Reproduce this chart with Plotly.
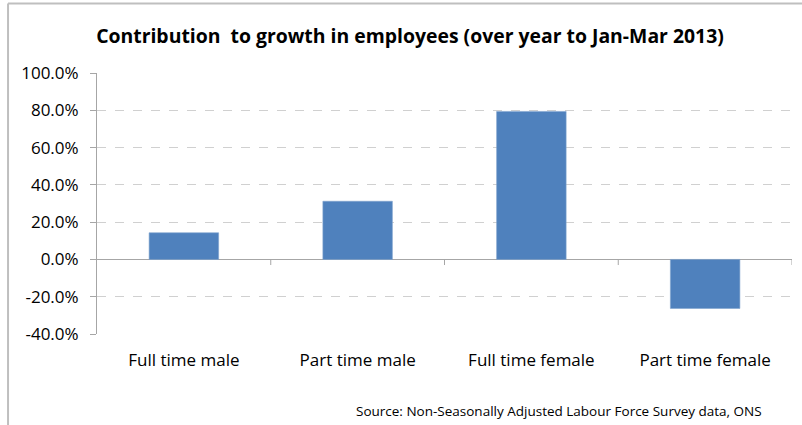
import plotly.graph_objects as go

categories = ["Full time male", "Part time male", "Full time female", "Part time female"]
contribution_pct = [14.3, 31.2, 79.4, -26.3]
y_ticks = [-40, -20, 0, 20, 40, 60, 80, 100]
y_tick_labels = [f"{v:.1f}%" for v in y_ticks]

title_text = "Contribution  to growth in employees (over year to Jan-Mar 2013)"
source_text = "Source: Non-Seasonally Adjusted Labour Force Survey data, ONS"

FONT = "'Open Sans', Carlito, Calibri, sans-serif"
AXIS_GREY = "#a6a6a6"
GRID_GREY = "#d0d0d0"

fig = go.Figure(
    go.Bar(
        x=categories,
        y=contribution_pct,
        marker=dict(color="#4f81bd", line=dict(color="#7fa3cf", width=0.6)),
        width=0.4,
        hoverinfo="x+y",
    )
)

# category boundary tick marks hanging from the zero line
shapes = []
for i in range(len(categories)):
    shapes.append(dict(type="line", xref="x", yref="y", x0=i + 0.5, x1=i + 0.5,
                       y0=0, y1=-3.0, line=dict(color=AXIS_GREY, width=1)))

# outer frame of the chart area (top and left edges)
shapes.append(dict(type="line", xref="paper", yref="paper", x0=-0.128, x1=1.05,
                   y0=1.266, y1=1.266, line=dict(color="#bfbfbf", width=2)))
shapes.append(dict(type="line", xref="paper", yref="paper", x0=-0.128, x1=-0.128,
                   y0=1.266, y1=-0.36, line=dict(color="#bfbfbf", width=2)))

fig.update_layout(
    width=802,
    height=425,
    margin=dict(l=97, r=10, t=73, b=91),
    paper_bgcolor="white",
    plot_bgcolor="white",
    showlegend=False,
    font=dict(family=FONT, color="#000000"),
    title=dict(
        text=f"<b>{title_text}</b>",
        x=410 / 802,
        xanchor="center",
        y=1 - 36 / 425,
        yanchor="middle",
        font=dict(size=19.4, family=FONT, color="#000000"),
    ),
    xaxis=dict(
        type="category",
        categoryorder="array",
        categoryarray=categories,
        range=[-0.5, len(categories) - 0.5],
        showgrid=False,
        showline=False,
        zeroline=False,
        ticks="",
        ticklabelstandoff=14,
        tickfont=dict(size=17, family=FONT, color="#000000"),
        fixedrange=True,
    ),
    yaxis=dict(
        range=[-40, 100],
        tickvals=y_ticks,
        ticktext=y_tick_labels,
        showgrid=True,
        gridcolor=GRID_GREY,
        griddash="dash",
        gridwidth=1,
        zeroline=True,
        zerolinecolor=AXIS_GREY,
        zerolinewidth=1,
        showline=True,
        linecolor=AXIS_GREY,
        linewidth=1,
        ticks="outside",
        ticklen=6,
        tickcolor=AXIS_GREY,
        ticklabelstandoff=8,
        tickfont=dict(size=17, family=FONT, color="#000000"),
        fixedrange=True,
    ),
    shapes=shapes,
    annotations=[
        dict(
            text=source_text,
            xref="paper",
            yref="paper",
            x=(764 - 97) / 695,
            xanchor="right",
            y=-(411 - 334) / 261,
            yanchor="middle",
            showarrow=False,
            font=dict(size=13.5, family=FONT, color="#000000"),
        )
    ],
)

fig.write_html("out.html")
